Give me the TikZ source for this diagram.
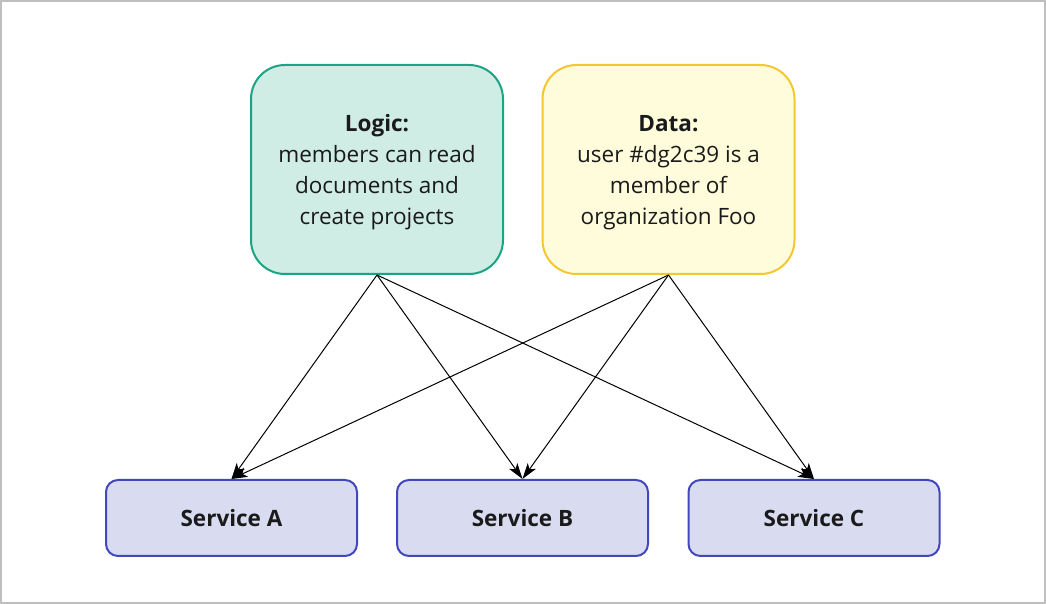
\documentclass[tikz,border=0pt]{standalone}
\usepackage{fontspec}
\setmainfont{Open Sans}
\usetikzlibrary{arrows.meta}
\definecolor{logicfill}{HTML}{CFECE5}
\definecolor{logicdraw}{HTML}{1BA386}
\definecolor{datafill}{HTML}{FFFCDC}
\definecolor{datadraw}{HTML}{F4C630}
\definecolor{svcfill}{HTML}{D9DCF0}
\definecolor{svcdraw}{HTML}{4248BC}
\definecolor{ink}{HTML}{1A1A1A}
\begin{document}
\begin{tikzpicture}[
  x=0.5pt, y=-0.5pt,
  topbox/.style={rounded corners=17pt, line width=1pt, minimum width=126pt,
                 minimum height=104.5pt, align=center, text=ink,
                 font=\fontsize{11.25}{15.5}\selectfont},
  service/.style={rounded corners=6pt, line width=1pt, draw=svcdraw, fill=svcfill,
                  minimum width=125.5pt, minimum height=38pt, text=ink,
                  font=\fontsize{11.25}{15.5}\selectfont\bfseries},
  conn/.style={-{Stealth[length=8pt, width=5pt, inset=2pt]}, line width=0.5pt}
]
  % Frame
  \useasboundingbox (0,0) rectangle (1046,604);
  \draw[line width=1pt, gray!50] (1,1) rectangle (1045,603);

  % Logic and data
  \node[topbox, draw=logicdraw, fill=logicfill] (logic) at (377,169.5)
    {\rule{0pt}{11.5pt}\textbf{Logic:}\\members can read\\documents and\\create projects};
  \node[topbox, draw=datadraw, fill=datafill] (data) at (668.5,169.5)
    {\rule{0pt}{11.5pt}\textbf{Data:}\\user \#dg2c39 is a\\member of\\organization Foo};

  % Services
  \node[service] (svcA) at (231.5,518) {Service A};
  \node[service] (svcB) at (522.5,518) {Service B};
  \node[service] (svcC) at (814,518) {Service C};

  % Connections
  \foreach \s in {logic,data} {
    \foreach \t in {A,B,C} {
      \draw[conn] (\s.south) -- (svc\t.north);
    }
  }
\end{tikzpicture}
\end{document}
